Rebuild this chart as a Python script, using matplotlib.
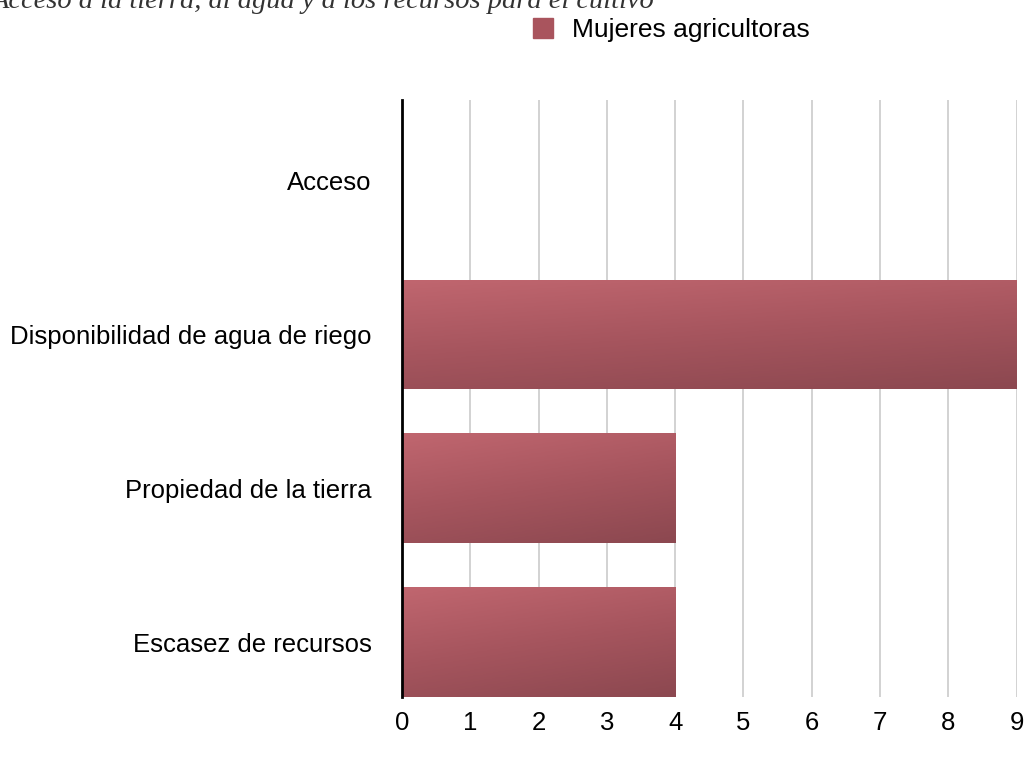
import numpy as np
import matplotlib
matplotlib.use("Agg")
import matplotlib.pyplot as plt
from matplotlib.colors import LinearSegmentedColormap

categories = ["Escasez de recursos", "Propiedad de la tierra",
              "Disponibilidad de agua de riego", "Acceso"]
values = [4, 4, 9, 0]
series_name = "Mujeres agricultoras"
title = "Acceso a la tierra, al agua y a los recursos para el cultivo"
xticks = list(range(0, 10))

plt.rcParams['font.family'] = ['Liberation Sans', 'DejaVu Sans']

fig = plt.figure(figsize=(10.28, 7.59), dpi=100)
ax = fig.add_axes([0.391, 0.0817, 0.598, 0.7863])

y = np.arange(len(categories))
bars = ax.barh(y, values, height=0.71, color="#a9545d", zorder=2)

# soft diagonal shading on each bar, like the original
cmap = LinearSegmentedColormap.from_list("bar", ["#c0666f", "#a6555e", "#8c4850"])
grad = np.add.outer(np.linspace(0, 1, 50), np.linspace(0, 0.4, 100))
for b in bars:
    if b.get_width() <= 0:
        continue
    x0, y0 = b.get_x(), b.get_y()
    im = ax.imshow(grad, cmap=cmap, aspect="auto", origin="lower",
                   extent=(x0, x0 + b.get_width(), y0 + b.get_height(), y0),
                   zorder=3)
    im.set_clip_path(b)

ax.set_xlim(0, 9)
ax.set_ylim(-0.357, 3.52)
ax.set_xticks(xticks)
ax.set_yticks(y)
ax.set_yticklabels(categories, fontsize=18.5)
ax.tick_params(axis="x", labelsize=18.5, length=0, pad=10)
ax.tick_params(axis="y", length=0, pad=22)
ax.xaxis.grid(True, color="#cfcfcf", linewidth=1.3, zorder=0)
ax.set_axisbelow(True)
for s in ["top", "right", "bottom"]:
    ax.spines[s].set_visible(False)
ax.spines["left"].set_linewidth(2)
ax.spines["left"].set_color("black")
ax.spines["left"].set_zorder(5)

fig.legend([plt.Rectangle((0, 0), 1, 1, color="#a9545d")], [series_name],
           loc="center", bbox_to_anchor=(0.653, 0.960), frameon=False,
           fontsize=19, handlelength=0.75, handleheight=0.75, handletextpad=0.7)

# title is cut off at the top edge of the image
fig.text(-0.008, 1 - 1 / 759, title, fontsize=20.5, style="italic",
         family="Liberation Serif", color="#333333", va="center", ha="left")

fig.savefig("out.png", dpi=100)
